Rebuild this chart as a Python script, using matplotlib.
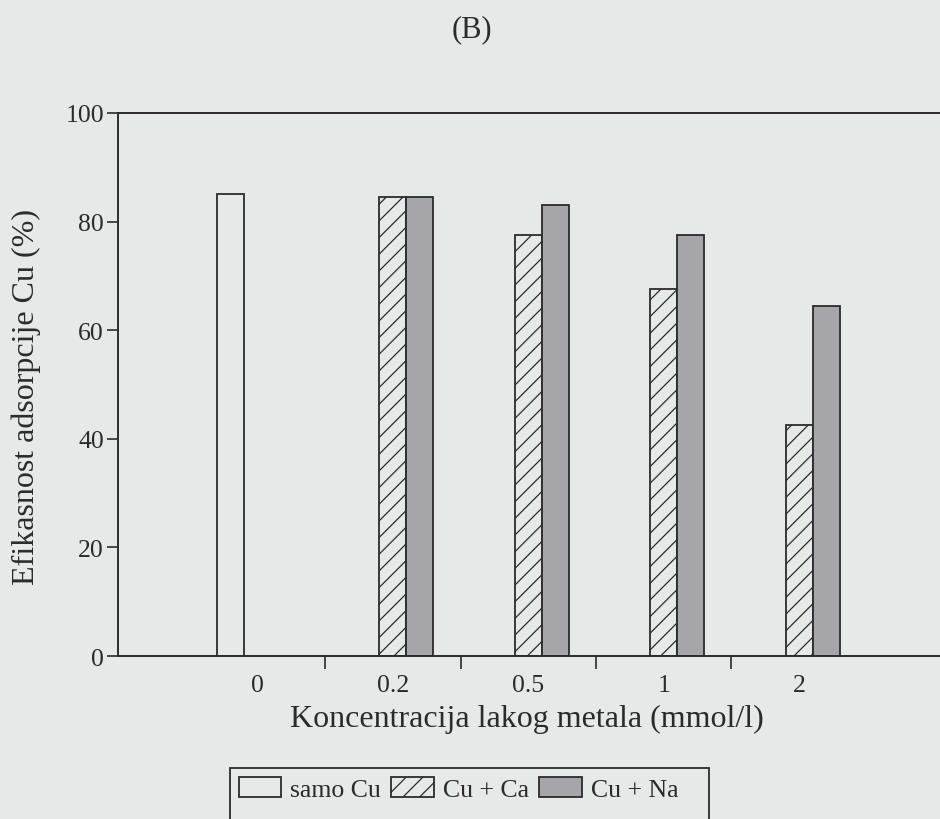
import numpy as np
import matplotlib
matplotlib.use("Agg")
import matplotlib.pyplot as plt
from matplotlib.patches import Patch, Rectangle

# Data: Cu adsorption efficiency (%) vs. light-metal concentration
categories = ["0", "0.2", "0.5", "1", "2"]
samo_cu = [85.0, None, None, None, None]
cu_ca = [None, 84.5, 77.5, 67.5, 42.5]
cu_na = [None, 84.5, 83.0, 77.5, 64.5]
y_ticks = [0, 20, 40, 60, 80, 100]

BG = "#e5e9e8"
INK = "#2b2b2b"
GRAY = "#a6a6aa"

plt.rcParams["font.family"] = ["Liberation Serif", "DejaVu Serif"]
plt.rcParams["hatch.linewidth"] = 0.9
plt.rcParams["hatch.color"] = INK

fig = plt.figure(figsize=(9.4, 8.2), dpi=100, facecolor=BG)
ax = fig.add_axes([118 / 940, 1 - 657 / 820, 830 / 940, (657 - 114) / 820])
ax.set_facecolor(BG)

x = np.arange(len(categories))
w = 0.2


def draw(vals, offset, **kw):
    xs = [xi + offset for xi, v in zip(x, vals) if v is not None]
    hs = [v for v in vals if v is not None]
    ax.bar(xs, hs, width=w, edgecolor=INK, linewidth=1.3, **kw)


draw(samo_cu, -w, facecolor=BG)
draw(cu_ca, 0.0, facecolor=BG, hatch="//")
draw(cu_na, w, facecolor=GRAY)

ax.set_xlim(-1.03, 5.1)
ax.set_ylim(0, 100)

ax.set_yticks(y_ticks)
ax.set_yticklabels([str(t) for t in y_ticks])
ax.set_xticks(x)
ax.set_xticklabels(categories)
ax.set_xticks(x[:-1] + 0.5, minor=True)

ax.tick_params(axis="y", direction="out", length=8, width=1.2, pad=2,
               labelsize=18.5, colors=INK)
ax.tick_params(axis="x", which="major", length=0, pad=13,
               labelsize=18.5, colors=INK)
ax.tick_params(axis="x", which="minor", direction="out", length=9, width=1.2,
               colors=INK)

for s in ax.spines.values():
    s.set_color(INK)
    s.set_linewidth(1.4)

fig.text(26 / 940, 1 - 397 / 820, "Efikasnost adsorpcije Cu (%)",
         rotation=90, ha="center", va="center", fontsize=23, color=INK)
fig.text(527 / 940, 1 - 727 / 820, "Koncentracija lakog metala (mmol/l)",
         ha="center", va="baseline", fontsize=23, color=INK)
fig.text(472 / 940, 1 - 30 / 820, "(B)", ha="center", va="center",
         fontsize=22, color=INK)

# Legend frame running off the lower edge of the page
fig.patches.append(Rectangle((230 / 940, 1 - 840 / 820), (709 - 230) / 940,
                             (840 - 769) / 820, transform=fig.transFigure,
                             facecolor="none", edgecolor=INK, linewidth=1.3))

handles = [
    Patch(facecolor=BG, edgecolor=INK, linewidth=1.3, label="samo Cu"),
    Patch(facecolor=BG, edgecolor=INK, linewidth=1.3, hatch="//", label="Cu + Ca"),
    Patch(facecolor=GRAY, edgecolor=INK, linewidth=1.3, label="Cu + Na"),
]
leg = fig.legend(handles=handles, loc="upper left",
                 bbox_to_anchor=(239 / 940, 1 - 778 / 820), ncol=3,
                 frameon=False, fontsize=18.5, handlelength=1.65,
                 handleheight=0.82, handletextpad=0.35, columnspacing=0.4,
                 borderpad=0.0, borderaxespad=0.0)
for t in leg.get_texts():
    t.set_color(INK)

fig.savefig("out.png", dpi=100, facecolor=BG)
